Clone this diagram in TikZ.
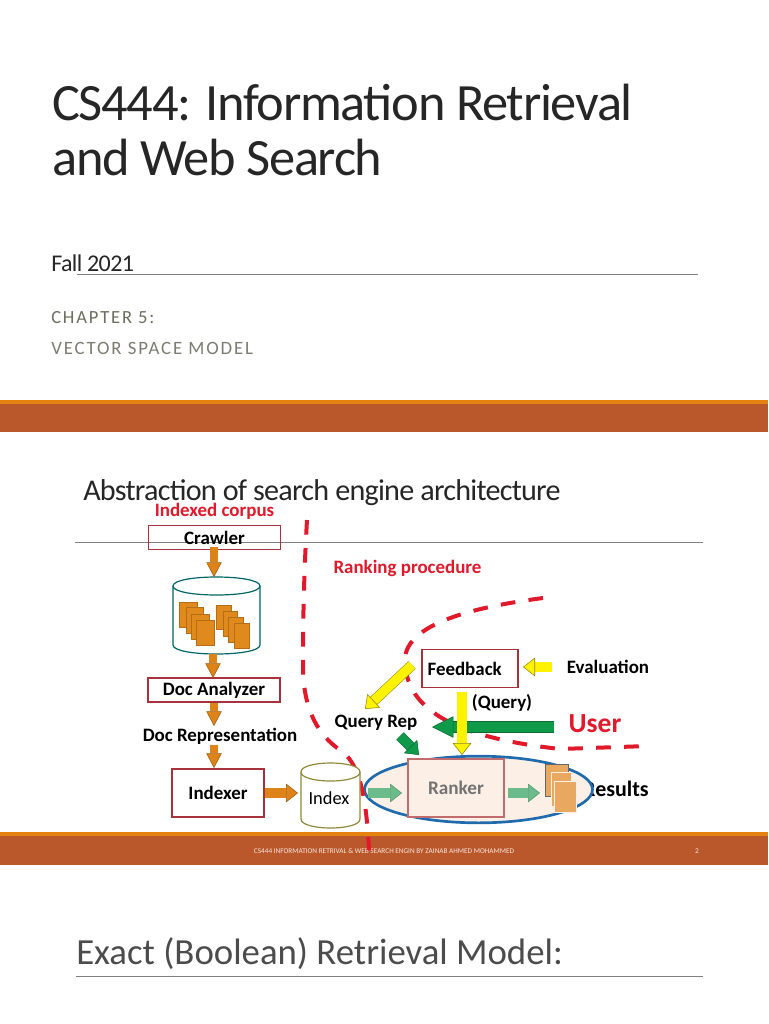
\documentclass[tikz,border=0pt]{standalone}
\usepackage{fontspec}
\setmainfont{Carlito}
\newfontfamily\titlefont[LetterSpace=-2.5]{Carlito}
\newfontfamily\capsfont[LetterSpace=10]{Carlito}
\usetikzlibrary{arrows.meta, shapes.geometric, positioning}
\definecolor{rust}{HTML}{BA582B}
\definecolor{amber}{HTML}{E48312}
\definecolor{boxred}{HTML}{A8323A}
\definecolor{dashred}{HTML}{E0192B}
\definecolor{docorange}{HTML}{E08A1E}
\definecolor{arroworange}{HTML}{DE8318}
\definecolor{palegreen}{HTML}{6CBB8A}
\definecolor{darkgreen}{HTML}{0E9A48}
\definecolor{peach}{HTML}{FBEFE6}
\definecolor{pagetan}{HTML}{E8A860}
\definecolor{scopeblue}{HTML}{1F6BAE}
\definecolor{chaptergray}{HTML}{6B6F5E}
\definecolor{topicgray}{HTML}{7C7C70}
\tikzset{
    slideline/.style={draw=black!50, line width=.6pt},
    label/.style={font=\bfseries\fontsize{14.2}{16}\selectfont, inner sep=0pt},
    redlabel/.style={label, text=dashred},
    stagebox/.style={draw=boxred, line width=.9pt, inner sep=0pt},
    bound/.style={draw=dashred, line width=3pt, dash pattern=on 11pt off 10pt},
    blockarrow/.style 2 args={draw=#2, double=#1, double distance=7pt, line width=.4pt, -{Triangle[width=14pt, length=9pt, fill=#1]}},
    slimarrow/.style 2 args={draw=#2, double=#1, double distance=5.5pt, line width=.4pt, -{Triangle[width=11.5pt, length=11pt, fill=#1]}},
    widearrow/.style 2 args={draw=#2, double=#1, double distance=8pt, line width=.4pt, -{Triangle[width=16pt, length=16pt, fill=#1]}},
    docpage/.style={fill=docorange, draw=docorange!80!black, line width=.3pt},
    drum/.style={draw=#1, line width=.9pt, fill=white},
}
% name, left, right, top rim, bottom rim, colour; rim bulge is 9 units
\newcommand{\drumshape}[6]{
    \draw[drum=#6] (#2, #4) -- (#2, #5) .. controls (#2, #5+12) and (#3, #5+12) .. (#3, #5) -- (#3, #4);
    \draw[drum=#6] (#2, #4) .. controls (#2, #4-12) and (#3, #4-12) .. (#3, #4) .. controls (#3, #4+12) and (#2, #4+12) .. (#2, #4);
    \coordinate (#1) at ({(#2+#3)/2}, {(#4+#5)/2});
}
\begin{document}
\begin{tikzpicture}[x=.75pt, y=-.75pt]
    \useasboundingbox (0, 0) rectangle (768, 1024);
    \fill[white] (0, 0) rectangle (768, 1024);

    \node[anchor=base west, inner sep=0pt, text=black!85, font=\titlefont\fontsize{39.3}{42}\selectfont] (title) at (52, 120) {CS444: Information Retrieval};
    \node[anchor=base west, inner sep=0pt, text=black!85, font=\titlefont\fontsize{39.3}{42}\selectfont] (titleb) at (52, 175) {and Web Search};
    \node[anchor=base west, inner sep=0pt, text=black!85, font=\titlefont\fontsize{18}{20}\selectfont] (term) at (51, 271) {Fall 2021};
    \draw[slideline] (77, 274) -- (698, 274);
    \node[anchor=base west, inner sep=0pt, text=chaptergray, font=\capsfont\fontsize{13.9}{16}\selectfont] (chapter) at (51, 323) {CHAPTER 5:};
    \node[anchor=base west, inner sep=0pt, text=topicgray, font=\capsfont\fontsize{14.1}{16}\selectfont] (topic) at (51, 354) {VECTOR SPACE MODEL};
    \fill[rust] (0, 404) rectangle (768, 432);
    \fill[amber] (0, 400) rectangle (768, 404);

    \node[anchor=base west, inner sep=0pt, text=black!85, font=\titlefont\fontsize{22.6}{25}\selectfont] (heading) at (83, 500) {Abstraction of search engine architecture};
    \draw[slideline] (75, 542) -- (703, 542);
    \fill[rust] (0, 836) rectangle (768, 865);
    \fill[amber] (0, 832) rectangle (768, 836);
    \node[text=white!85!rust, font=\fontsize{5.45}{6}\selectfont, inner sep=0pt] (footer) at (384, 851) {CS444 INFORMATION RETRIVAL \& WEB SEARCH ENGIN BY ZAINAB AHMED MOHAMMED};
    \node[text=white!85!rust, font=\fontsize{5.5}{6}\selectfont, inner sep=0pt] (page) at (697, 851) {2};

    \node[anchor=base west, inner sep=0pt, text=black!70, font=\fontsize{27.6}{30}\selectfont] (next) at (76, 964) {Exact (Boolean) Retrieval Model:};
    \draw[slideline] (76, 976) -- (703, 976);

    \node[label, font=\fontsize{16.5}{18}\selectfont\bfseries, anchor=east] (results) at (649, 789) {Results};
    \node[ellipse, draw=scopeblue, line width=2pt, fill=peach, inner sep=0pt, minimum width=171pt, minimum height=50pt] (scope) at (478.5, 789.5) {};

    \draw[bound] (307, 520) .. controls (303, 590) and (303, 640) .. (303, 670) .. controls (304, 710) and (318, 735) .. (340, 750) .. controls (358, 762) and (366, 790) .. (369, 850);
    \draw[bound] (543, 598) .. controls (490, 605) and (405, 620) .. (405, 660) .. controls (405, 720) and (480, 740) .. (560, 749) -- (648, 746);

    \node[redlabel] (corpuslabel) at (214.5, 511) {Indexed corpus};
    \node[redlabel] (ranklabel) at (407.5, 568) {Ranking procedure};
    \node[label] (docrep) at (220, 736) {Doc Representation};
    \node[label] (queryrep) at (376, 723) {Query Rep};
    \node[label] (evaluation) at (608, 667) {Evaluation};
    \node[label] (querytext) at (502, 703) {(Query)};
    \node[text=dashred, font=\fontsize{20.7}{22}\selectfont\bfseries, inner sep=0pt] (user) at (595, 724) {User};

    \node[stagebox, minimum width=99.5pt, minimum height=18.5pt] (crawler) at (214.5, 537.5) {};
    \node[label] at (214.5, 537.5) {Crawler};
    \node[stagebox, fill=white, minimum width=99pt, minimum height=18pt, label] (analyzer) at (214, 690) {Doc Analyzer};
    \node[stagebox, fill=white, minimum width=69pt, minimum height=36pt, label] (indexer) at (218, 793) {Indexer};
    \node[stagebox, fill=white, minimum width=72pt, minimum height=29pt, label] (feedback) at (470, 668.5) {\hspace{-8pt}Feedback};

    \drumshape{corpus}{173}{260}{586}{645}{teal!80!black}
    \foreach \px/\py/\pw/\ph in {179/602/18/25, 186/607/17/26, 191/614/18/25, 196/620/18/25, 216/605/15/24, 223/611/14/25, 228/617/15/25, 234/623/15/25} {
        \fill[docpage] (\px, \py) rectangle ++(\pw, \ph);
    }
    \drumshape{index}{301}{360}{772}{819}{olive!60!gray}
    \node[inner sep=0pt, font=\fontsize{13.8}{15}\selectfont] at (329, 798) {Index};

    \node[draw=boxred!70!peach, line width=.9pt, fill=peach, inner sep=0pt, minimum width=72pt, minimum height=43.5pt, text=black!55, font=\bfseries\fontsize{14.4}{16}\selectfont] (ranker) at (456, 788) {Ranker};
    \fill[pagetan, draw=black!60, line width=.3pt] (545, 764) rectangle ++(23, 32);
    \fill[pagetan, draw=peach, line width=.3pt] (551, 772) rectangle ++(20, 34);
    \node[fill=pagetan, draw=peach, line width=.3pt, inner sep=0pt, minimum width=16.5pt, minimum height=23pt] (docs) at (565, 796.5) {};

    \coordinate (crawlerend) at (214, 577);
    \coordinate (userstart) at (554, 727);
    \coordinate (userend) at (432, 727);
    \coordinate (evalstart) at (552, 667);
    \coordinate (evalend) at (523, 667);
    \coordinate (fbstart) at (412, 665);
    \coordinate (fbend) at (365, 709);
    \coordinate (repstart) at (400, 736);
    \coordinate (repend) at (419, 755);

    \draw[slimarrow={arroworange}{arroworange!70!black}] (214, 547) -- (crawlerend);
    \draw[slimarrow={arroworange}{arroworange!70!black}] (213, 654) -- (213, 678);
    \draw[slimarrow={arroworange}{arroworange!70!black}] (214, 703) -- (214, 726);
    \draw[slimarrow={arroworange}{arroworange!70!black}] (214, 745) -- (214, 768);
    \draw[blockarrow={arroworange}{arroworange!70!black}] (indexer.east) -- (298, 793);
    \draw[widearrow={darkgreen}{darkgreen!70!black}] (userstart) -- (userend);
    \draw[blockarrow={darkgreen}{darkgreen!70!black}] (repstart) -- (repend);
    \draw[blockarrow={yellow}{olive}] (evalstart) -- (evalend);
    \draw[blockarrow={yellow}{olive}] (fbstart) -- (fbend);
    \draw[blockarrow={yellow}{olive}] (462, 692) -- (462, 755);
    \draw[blockarrow={palegreen}{palegreen!80!black}] (368, 793) -- (402, 793);
    \draw[blockarrow={palegreen}{palegreen!80!black}] (508, 793) -- (540, 793);
\end{tikzpicture}
\end{document}
